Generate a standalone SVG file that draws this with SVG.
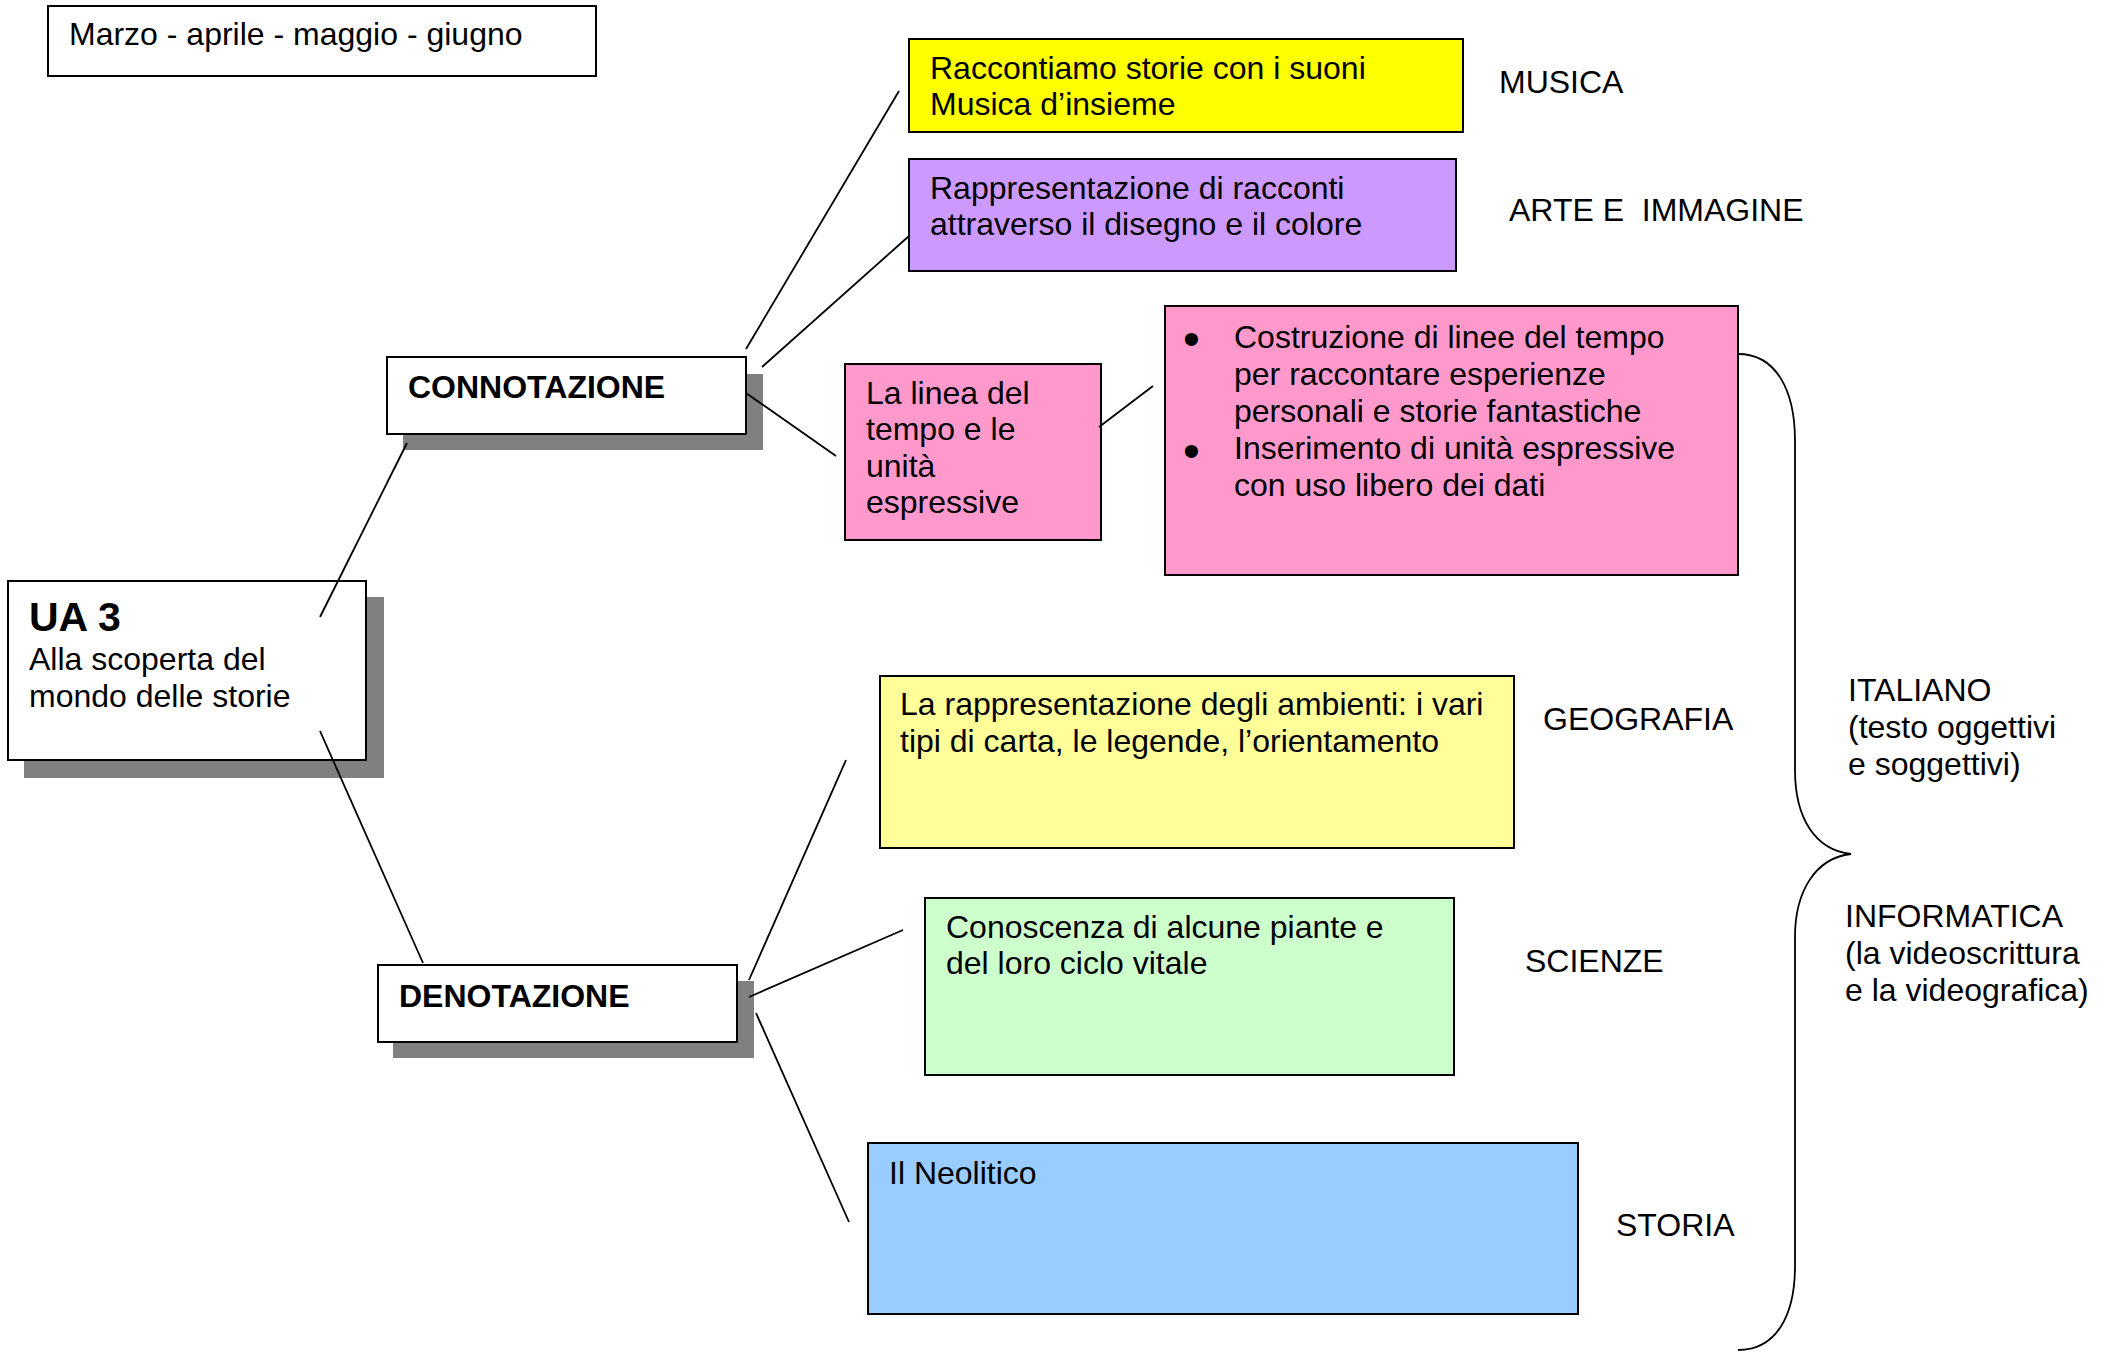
<svg xmlns="http://www.w3.org/2000/svg" width="2110" height="1352" viewBox="0 0 2110 1352">
<style>
text{font-family:"Liberation Sans",Arial,sans-serif;font-size:32px;fill:#000}
.b{font-weight:bold}
.bul{font-size:48px}
.box{stroke:#000;stroke-width:2}
.sh{fill:#808080}
.ln{stroke:#000;stroke-width:1.8;fill:none}
</style>
<rect width="2110" height="1352" fill="#fff"/>
<g id="date">
<rect class="box" x="48" y="6" width="548" height="70" fill="#fff"/>
<text x="69" y="45">Marzo - aprile - maggio - giugno</text>
</g>
<g id="ua3">
<rect class="sh" x="24" y="597" width="360" height="181"/>
<rect class="box" x="8" y="581" width="358" height="179" fill="#fff"/>
<text class="b" x="29" y="631" style="font-size:41px">UA 3</text>
<text x="29" y="670">Alla scoperta del</text>
<text x="29" y="707">mondo delle storie</text>
</g>
<g id="connotazione">
<rect class="sh" x="403" y="374" width="360" height="76"/>
<rect class="box" x="387" y="357" width="359" height="77" fill="#fff"/>
<text class="b" x="408" y="398">CONNOTAZIONE</text>
</g>
<g id="denotazione">
<rect class="sh" x="393" y="981" width="361" height="77"/>
<rect class="box" x="378" y="965" width="359" height="77" fill="#fff"/>
<text class="b" x="399" y="1007">DENOTAZIONE</text>
</g>
<g id="musica">
<rect class="box" x="909" y="39" width="554" height="93" fill="#FFFF00"/>
<text x="930" y="79">Raccontiamo storie con i suoni</text>
<text x="930" y="115">Musica d’insieme</text>
<text x="1499" y="93">MUSICA</text>
</g>
<g id="arte">
<rect class="box" x="909" y="159" width="547" height="112" fill="#CC99FF"/>
<text x="930" y="199">Rappresentazione di racconti</text>
<text x="930" y="235">attraverso il disegno e il colore</text>
<text x="1509" y="221" xml:space="preserve">ARTE E  IMMAGINE</text>
</g>
<g id="linea">
<rect class="box" x="845" y="364" width="256" height="176" fill="#FF99CC"/>
<text x="866" y="404">La linea del</text>
<text x="866" y="440">tempo e le</text>
<text x="866" y="477">unità</text>
<text x="866" y="513">espressive</text>
</g>
<g id="costruzione">
<rect class="box" x="1165" y="306" width="573" height="269" fill="#FF99CC"/>
<text class="bul" x="1183" y="355">•</text>
<text x="1234" y="348">Costruzione di linee del tempo</text>
<text x="1234" y="385">per raccontare esperienze</text>
<text x="1234" y="422">personali e storie fantastiche</text>
<text class="bul" x="1183" y="467">•</text>
<text x="1234" y="459">Inserimento di unità espressive</text>
<text x="1234" y="496">con uso libero dei dati</text>
</g>
<g id="geografia">
<rect class="box" x="880" y="676" width="634" height="172" fill="#FFFF99"/>
<text x="900" y="715">La rappresentazione degli ambienti: i vari</text>
<text x="900" y="752">tipi di carta, le legende, l’orientamento</text>
<text x="1543" y="730">GEOGRAFIA</text>
</g>
<g id="scienze">
<rect class="box" x="925" y="898" width="529" height="177" fill="#CCFFCC"/>
<text x="946" y="938">Conoscenza di alcune piante e</text>
<text x="946" y="974">del loro ciclo vitale</text>
<text x="1525" y="972">SCIENZE</text>
</g>
<g id="storia">
<rect class="box" x="868" y="1143" width="710" height="171" fill="#99CCFF"/>
<text x="889" y="1184">Il Neolitico</text>
<text x="1616" y="1236">STORIA</text>
</g>
<g id="italiano">
<text x="1848" y="701">ITALIANO</text>
<text x="1848" y="738">(testo oggettivi</text>
<text x="1848" y="775">e soggettivi)</text>
</g>
<g id="informatica">
<text x="1845" y="927">INFORMATICA</text>
<text x="1845" y="964">(la videoscrittura</text>
<text x="1845" y="1001">e la videografica)</text>
</g>
<g id="connectors">
<line class="ln" x1="407" y1="443" x2="320" y2="617"/>
<line class="ln" x1="320" y1="731" x2="423" y2="963"/>
<line class="ln" x1="746" y1="349" x2="899" y2="91"/>
<line class="ln" x1="762" y1="367" x2="909" y2="236"/>
<line class="ln" x1="746" y1="393" x2="836" y2="456"/>
<line class="ln" x1="1099" y1="427" x2="1153" y2="386"/>
<line class="ln" x1="749" y1="980" x2="846" y2="760"/>
<line class="ln" x1="749" y1="997" x2="903" y2="930"/>
<line class="ln" x1="756" y1="1013" x2="849" y2="1222"/>
<path class="ln" d="M1738,354 C1776,354 1795,390 1795,441 L1795,770 C1795,818 1815,850 1851,854 C1815,858 1795,892 1795,937 L1795,1266 C1795,1316 1776,1350 1738,1350"/>
</g>
</svg>
